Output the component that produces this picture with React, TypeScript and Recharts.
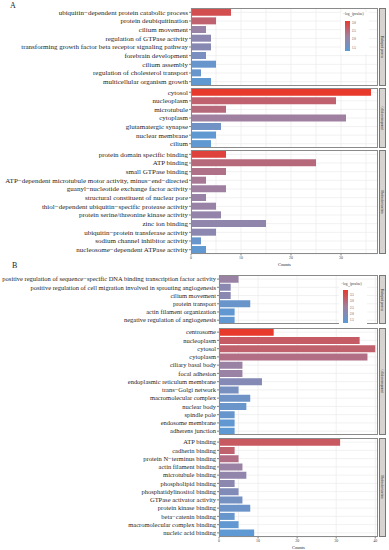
import React from 'react';
import { BarChart, Bar, XAxis, YAxis, CartesianGrid, Cell } from 'recharts';

// ---- Panel A ----
const aBpTerms = [
  'ubiquitin−dependent protein catabolic process',
  'protein deubiquitination',
  'cilium movement',
  'regulation of GTPase activity',
  'transforming growth factor beta receptor signaling pathway',
  'forebrain development',
  'cilium assembly',
  'regulation of cholesterol transport',
  'multicellular organism growth',
];
const aBpCounts = [8, 5, 3, 4, 4, 3, 5, 2, 4];
const aBpLogP = [2.85, 2.6, 2.1, 1.95, 1.9, 1.7, 1.5, 1.5, 1.4];

const aCcTerms = ['cytosol', 'nucleoplasm', 'microtubule', 'cytoplasm', 'glutamatergic synapse', 'nuclear membrane', 'cilium'];
const aCcCounts = [36, 29, 7, 31, 6, 5, 4];
const aCcLogP = [3.12, 2.6, 2.5, 2.2, 1.6, 1.4, 1.4];

const aMfTerms = [
  'protein domain specific binding',
  'ATP binding',
  'small GTPase binding',
  'ATP−dependent microtubule motor activity, minus−end−directed',
  'guanyl−nucleotide exchange factor activity',
  'structural constituent of nuclear pore',
  'thiol−dependent ubiquitin−specific protease activity',
  'protein serine/threonine kinase activity',
  'zinc ion binding',
  'ubiquitin−protein transferase activity',
  'sodium channel inhibitor activity',
  'nucleosome−dependent ATPase activity',
];
const aMfCounts = [7, 25, 7, 3, 7, 3, 5, 6, 15, 5, 2, 3];
const aMfLogP = [3.0, 2.5, 2.4, 2.3, 2.2, 2.1, 2.1, 2.05, 2.0, 1.95, 1.5, 1.4];

const aAxisTicks = [0, 10, 20, 30];
const aGridTicks = [0, 5, 10, 15, 20, 25, 30, 35];
const aLegendTicks = [3.0, 2.5, 2.0, 1.5];

// ---- Panel B ----
const bBpTerms = [
  'positive regulation of sequence−specific DNA binding transcription factor activity',
  'positive regulation of cell migration involved in sprouting angiogenesis',
  'cilium movement',
  'protein transport',
  'actin filament organization',
  'negative regulation of angiogenesis',
];
const bBpCounts = [5, 3, 3, 8, 4, 4];
const bBpLogP = [2.5, 2.2, 2.2, 1.6, 1.45, 1.45];

const bCcTerms = [
  'centrosome', 'nucleoplasm', 'cytosol', 'cytoplasm', 'ciliary basal body', 'focal adhesion',
  'endoplasmic reticulum membrane', 'trans−Golgi network', 'macromolecular complex', 'nuclear body',
  'spindle pole', 'endosome membrane', 'adherens junction',
];
const bCcCounts = [14, 36, 40, 38, 6, 6, 11, 5, 8, 7, 4, 4, 4];
const bCcLogP = [3.95, 3.3, 3.2, 2.95, 2.5, 2.5, 2.1, 1.85, 1.7, 1.6, 1.55, 1.45, 1.4];

const bMfTerms = [
  'ATP binding', 'cadherin binding', 'protein N−terminus binding', 'actin filament binding',
  'microtubule binding', 'phospholipid binding', 'phosphatidylinositol binding', 'GTPase activator activity',
  'protein kinase binding', 'beta−catenin binding', 'macromolecular complex binding', 'nucleic acid binding',
];
const bMfCounts = [31, 4, 5, 6, 7, 4, 5, 6, 8, 4, 5, 9];
const bMfLogP = [3.35, 3.2, 2.95, 2.5, 2.35, 2.25, 2.05, 1.8, 1.65, 1.55, 1.45, 1.4];

const bAxisTicks = [0, 10, 20, 30, 40];
const bGridTicks = [0, 5, 10, 15, 20, 25, 30, 35, 40];
const bLegendTicks = [3.5, 3.0, 2.5, 2.0, 1.5];

const PLOT_RIGHT = 378;
const STOPS = [
  { t: 0, c: [90, 155, 214] },
  { t: 0.5, c: [161, 127, 159] },
  { t: 1, c: [232, 57, 45] },
];

const colorOf = (v: number, lo: number, hi: number) => {
  const t = Math.max(0, Math.min(1, (v - lo) / (hi - lo)));
  const k = t <= 0.5 ? 0 : 1;
  const a = STOPS[k], b = STOPS[k + 1];
  const f = (t - a.t) / (b.t - a.t);
  const c = a.c.map((x, i) => Math.round(x + (b.c[i] - x) * f));
  return `rgb(${c[0]},${c[1]},${c[2]})`;
};

// plain one-line label, no wrapping
const TermTick = ({ x, y, payload, fs }: any) => (
  <text x={x} y={y} dy="0.34em" textAnchor="end" fontSize={fs} fill="#1e1e1e">
    {payload.value}
  </text>
);

const Facet = ({ terms, counts, logP, top, height, plotLeft, xMax, gridTicks, axisTicks, fontSize, lo, hi, strip }: any) => {
  const data = terms.map((name: string, i: number) => ({ name, count: counts[i], logP: logP[i] }));
  const axisH = axisTicks ? 12 : 0;
  return (
    <div style={{ position: 'absolute', left: 0, top }}>
      <BarChart width={PLOT_RIGHT} height={height + axisH} data={data} layout="vertical"
        margin={{ top: 0, right: 0, bottom: 0, left: 0 }} barCategoryGap="8%">
        <CartesianGrid xAxisId="g" stroke="#EBEBEB" strokeWidth={0.7} />
        <XAxis xAxisId="g" type="number" domain={[0, xMax]} ticks={gridTicks} allowDataOverflow hide height={0} />
        {axisTicks && (
          <XAxis xAxisId="v" type="number" domain={[0, xMax]} ticks={axisTicks} allowDataOverflow height={axisH}
            axisLine={false} tickSize={1.5} tickMargin={0.5} tickLine={{ stroke: '#333', strokeWidth: 0.6 }}
            tick={{ fontSize: 4, fill: '#444' }}
            label={{ value: 'Counts', position: 'insideBottom', offset: 0, fontSize: 4.5, fill: '#222' }} />
        )}
        <YAxis type="category" dataKey="name" width={plotLeft} interval={0} tickSize={2} tickMargin={1}
          axisLine={false} tickLine={{ stroke: '#333', strokeWidth: 0.6 }}
          tick={(p: any) => <TermTick {...p} fs={fontSize} />} />
        <Bar xAxisId="g" dataKey="count" isAnimationActive={false}>
          {data.map((d: any, i: number) => (
            <Cell key={`c-${i}`} fill={colorOf(d.logP, lo, hi)} />
          ))}
        </Bar>
      </BarChart>
      <div style={{ position: 'absolute', left: plotLeft, top: 0, width: PLOT_RIGHT - plotLeft, height,
        border: '0.8px solid #8a8a8a', boxSizing: 'border-box', pointerEvents: 'none' }} />
      <div style={{ position: 'absolute', left: PLOT_RIGHT + 0.5, top: 0, width: 7, height,
        background: '#D6D3D0', border: '0.8px solid #777', boxSizing: 'border-box',
        display: 'flex', alignItems: 'center', justifyContent: 'center', overflow: 'hidden' }}>
        <span style={{ transform: 'rotate(90deg)', whiteSpace: 'nowrap', fontSize: 3, color: '#333' }}>{strip}</span>
      </div>
    </div>
  );
};

const GradientLegend = ({ left, top, barTop, barHeight, ticks, lo, hi }: any) => (
  <div style={{ position: 'absolute', left, top, width: 28, height: barTop + barHeight + 3, background: '#fff' }}>
    <div style={{ position: 'absolute', left: 2, top: 0, fontSize: 3.5, color: '#333', whiteSpace: 'nowrap' }}>
      −log<sub style={{ fontSize: 2.5 }}>10</sub>(pvalue)
    </div>
    <div style={{ position: 'absolute', left: 4, top: barTop, width: 5, height: barHeight,
      background: `linear-gradient(to bottom, ${colorOf(hi, lo, hi)}, ${colorOf((lo + hi) / 2, lo, hi)}, ${colorOf(lo, lo, hi)})` }} />
    {ticks.map((v: number) => (
      <div key={v} style={{ position: 'absolute', left: 11, top: barTop + ((hi - v) / (hi - lo)) * barHeight - 1.5,
        fontSize: 3, color: '#444', lineHeight: '3px' }}>
        {v.toFixed(1)}
      </div>
    ))}
  </div>
);

const A_LO = 1.32, A_HI = 3.12;
const B_LO = 1.32, B_HI = 3.95;

export default function App() {
  return (
    <div style={{ position: 'relative', width: 389, height: 550, background: '#fff', fontFamily: '"Liberation Serif", serif', overflow: 'hidden' }}>
      <style>{'body{margin:0}'}</style>
      <div style={{ position: 'absolute', left: 10, top: 1, fontSize: 8, color: '#222' }}>A</div>
      <Facet terms={aBpTerms} counts={aBpCounts} logP={aBpLogP} top={8} height={78} plotLeft={191} xMax={37.4}
        gridTicks={aGridTicks} fontSize={7.0} lo={A_LO} hi={A_HI} strip="Biological process" />
      <Facet terms={aCcTerms} counts={aCcCounts} logP={aCcLogP} top={88} height={60} plotLeft={191} xMax={37.4}
        gridTicks={aGridTicks} fontSize={7.0} lo={A_LO} hi={A_HI} strip="Cellular component" />
      <Facet terms={aMfTerms} counts={aMfCounts} logP={aMfLogP} top={149.5} height={104} plotLeft={191} xMax={37.4}
        gridTicks={aGridTicks} axisTicks={aAxisTicks} fontSize={7.0} lo={A_LO} hi={A_HI} strip="Molecular function" />
      <GradientLegend left={341} top={12} barTop={9} barHeight={30} ticks={aLegendTicks} lo={A_LO} hi={A_HI} />

      <div style={{ position: 'absolute', left: 12, top: 261, fontSize: 8, color: '#222' }}>B</div>
      <Facet terms={bBpTerms} counts={bBpCounts} logP={bBpLogP} top={275} height={49.3} plotLeft={219} xMax={40.7}
        gridTicks={bGridTicks} fontSize={6.5} lo={B_LO} hi={B_HI} strip="Biological process" />
      <Facet terms={bCcTerms} counts={bCcCounts} logP={bCcLogP} top={327.7} height={107.3} plotLeft={219} xMax={40.7}
        gridTicks={bGridTicks} fontSize={6.5} lo={B_LO} hi={B_HI} strip="Cellular component" />
      <Facet terms={bMfTerms} counts={bMfCounts} logP={bMfLogP} top={437.7} height={99} plotLeft={219} xMax={40.7}
        gridTicks={bGridTicks} axisTicks={bAxisTicks} fontSize={6.5} lo={B_LO} hi={B_HI} strip="Molecular function" />
      <GradientLegend left={339} top={282} barTop={8} barHeight={33} ticks={bLegendTicks} lo={B_LO} hi={B_HI} />
    </div>
  );
}
